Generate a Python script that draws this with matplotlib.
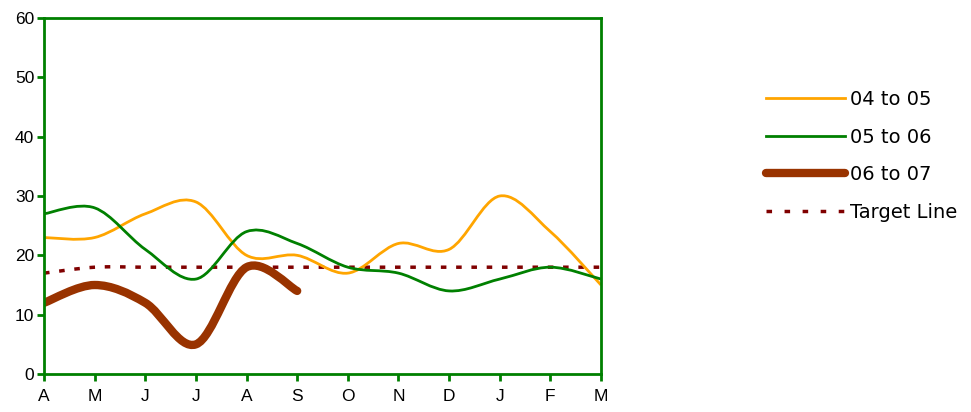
import matplotlib
matplotlib.use("Agg")
import matplotlib.pyplot as plt
from matplotlib.path import Path
from matplotlib.patches import PathPatch
from matplotlib.lines import Line2D

months = ["A", "M", "J", "J", "A", "S", "O", "N", "D", "J", "F", "M"]
y0405 = [23, 23, 27, 29, 20, 20, 17, 22, 21, 30, 24, 15]
y0506 = [27, 28, 21, 16, 24, 22, 18, 17, 14, 16, 18, 16]
y0607 = [12, 15, 12, 5, 18, 14]
target = [17, 18, 18, 18, 18, 18, 18, 18, 18, 18, 18, 18]


def smooth_path(ys):
    # excel-style smoothed line as cubic bezier segments
    xs = list(range(len(ys)))
    verts = [(xs[0], ys[0])]
    codes = [Path.MOVETO]
    n = len(ys)
    for i in range(n - 1):
        xp, yp = (xs[i - 1], ys[i - 1]) if i > 0 else (xs[i], ys[i])
        xn, yn = (xs[i + 2], ys[i + 2]) if i + 2 < n else (xs[i + 1], ys[i + 1])
        c1 = (xs[i] + (xs[i + 1] - xp) / 6, ys[i] + (ys[i + 1] - yp) / 6)
        c2 = (xs[i + 1] - (xn - xs[i]) / 6, ys[i + 1] - (yn - ys[i]) / 6)
        verts += [c1, c2, (xs[i + 1], ys[i + 1])]
        codes += [Path.CURVE4] * 3
    return Path(verts, codes)


fig = plt.figure(figsize=(9.71, 4.12), dpi=100)
ax = fig.add_axes([44 / 971, 38 / 412, 557 / 971, 356 / 412])

green = "#008000"
orange = "#FFA500"
brown = "#993300"
darkred = "#800000"

ax.add_patch(PathPatch(smooth_path(target), fill=False, edgecolor=darkred,
                       lw=2.5, linestyle=(0, (1.6, 2.8)), capstyle="butt"))
ax.add_patch(PathPatch(smooth_path(y0405), fill=False, edgecolor=orange, lw=2))
ax.add_patch(PathPatch(smooth_path(y0506), fill=False, edgecolor=green, lw=2))
ax.add_patch(PathPatch(smooth_path(y0607), fill=False, edgecolor=brown, lw=6,
                       capstyle="round", joinstyle="round"))

ax.set_xlim(0, len(months) - 1)
ax.set_ylim(0, 60)
ax.set_xticks(range(len(months)))
ax.set_xticklabels(months)
ax.set_yticks(range(0, 61, 10))

for s in ax.spines.values():
    s.set_color(green)
    s.set_linewidth(2)
ax.tick_params(colors=green, labelcolor="black", width=2, length=5,
               labelsize=12.5, direction="out")
for lab in ax.get_xticklabels() + ax.get_yticklabels():
    lab.set_family("Liberation Sans")
ax.tick_params(axis="x", pad=6)
ax.tick_params(axis="y", pad=2)

handles = [
    Line2D([], [], color=orange, lw=2),
    Line2D([], [], color=green, lw=2),
    Line2D([], [], color=brown, lw=6, solid_capstyle="round"),
    Line2D([], [], color=darkred, lw=2.5, linestyle=(0, (1.6, 3.6))),
]
labels = ["04 to 05", "05 to 06", "06 to 07", "Target Line"]
fig.legend(handles, labels, loc="center left",
           bbox_to_anchor=(756 / 971, 1 - 156 / 412),
           frameon=False, borderpad=0, handlelength=4.1, handletextpad=0.25,
           labelspacing=0.95, prop={"family": "DejaVu Sans", "size": 14})

fig.savefig("out.png", dpi=100)
